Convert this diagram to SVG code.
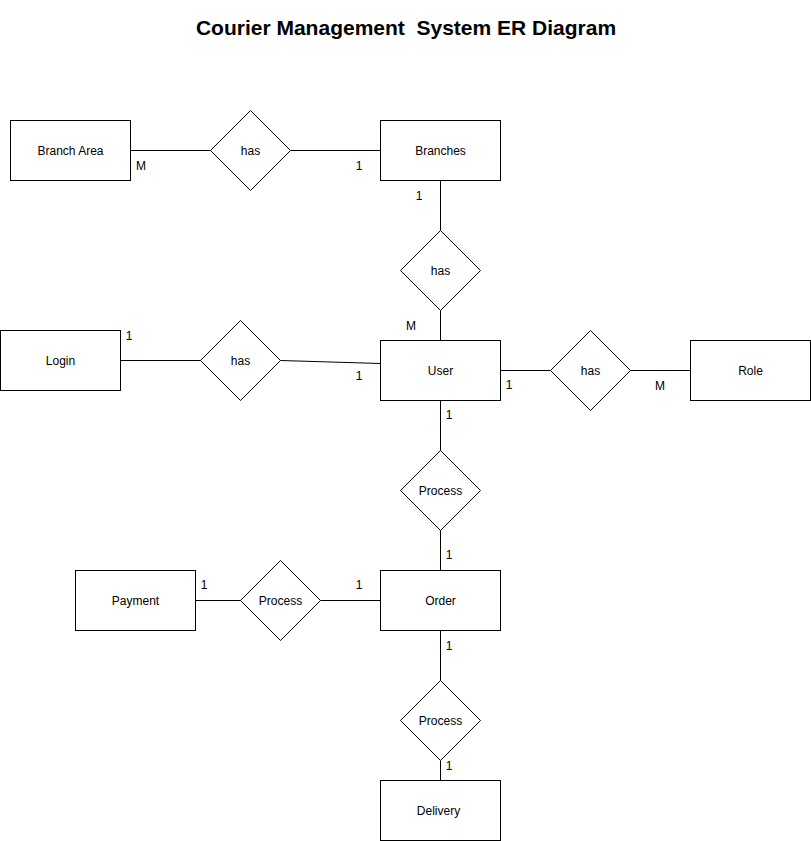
<svg xmlns="http://www.w3.org/2000/svg" width="811" height="841" viewBox="0 0 811 841">
<style>
.e{fill:#fff;stroke:#000;stroke-width:1}
.t{font-family:"Liberation Sans",Arial,sans-serif;font-size:12px;fill:#000;text-anchor:middle;dominant-baseline:central}
.c{font-family:"Liberation Sans",Arial,sans-serif;font-size:12px;fill:#000;text-anchor:middle}
.l{stroke:#000;stroke-width:1;fill:none}
</style>
<rect width="811" height="841" fill="#fff"/>
<text x="406" y="35" font-family="Liberation Sans,Arial,sans-serif" font-size="21" font-weight="bold" text-anchor="middle" xml:space="preserve">Courier Management  System ER Diagram</text>
<g transform="translate(0.5,0.5)">
<g id="connectors">
<path class="l" d="M130,150H210M290,150H380"/>
<path class="l" d="M440,180V230M440,310V340"/>
<path class="l" d="M120,360H200M280,360L380,363"/>
<path class="l" d="M500,370H550M630,370H690"/>
<path class="l" d="M440,400V450M440,530V570"/>
<path class="l" d="M195,600H240M320,600H380"/>
<path class="l" d="M440,630V680M440,760V780"/>
</g>
<g id="branch-area"><rect class="e" x="10" y="120" width="120" height="60"/><text class="t" x="70" y="150">Branch Area</text></g>
<g id="branches"><rect class="e" x="380" y="120" width="120" height="60"/><text class="t" x="440" y="150">Branches</text></g>
<g id="login"><rect class="e" x="0" y="330" width="120" height="60"/><text class="t" x="60" y="360">Login</text></g>
<g id="user"><rect class="e" x="380" y="340" width="120" height="60"/><text class="t" x="440" y="370">User</text></g>
<g id="role"><rect class="e" x="690" y="340" width="120" height="60"/><text class="t" x="750" y="370">Role</text></g>
<g id="order"><rect class="e" x="380" y="570" width="120" height="60"/><text class="t" x="440" y="600">Order</text></g>
<g id="payment"><rect class="e" x="75" y="570" width="120" height="60"/><text class="t" x="135" y="600">Payment</text></g>
<g id="delivery"><rect class="e" x="380" y="780" width="120" height="60"/><text class="t" x="438" y="810">Delivery</text></g>
<g id="rel-area-branches"><path class="e" d="M250,110L290,150L250,190L210,150Z"/><text class="t" x="250" y="150">has</text></g>
<g id="rel-branches-user"><path class="e" d="M440,230L480,270L440,310L400,270Z"/><text class="t" x="440" y="270">has</text></g>
<g id="rel-login-user"><path class="e" d="M240,320L280,360L240,400L200,360Z"/><text class="t" x="240" y="360">has</text></g>
<g id="rel-user-role"><path class="e" d="M590,330L630,370L590,410L550,370Z"/><text class="t" x="590" y="370">has</text></g>
<g id="rel-user-order"><path class="e" d="M440,450L480,490L440,530L400,490Z"/><text class="t" x="440" y="490">Process</text></g>
<g id="rel-payment-order"><path class="e" d="M280,560L320,600L280,640L240,600Z"/><text class="t" x="280" y="600">Process</text></g>
<g id="rel-order-delivery"><path class="e" d="M440,680L480,720L440,760L400,720Z"/><text class="t" x="440" y="720">Process</text></g>
</g>
<g id="labels">
<text class="c" x="141" y="170">M</text>
<text class="c" x="359" y="170">1</text>
<text class="c" x="419" y="200">1</text>
<text class="c" x="411" y="330">M</text>
<text class="c" x="129" y="340">1</text>
<text class="c" x="359" y="380">1</text>
<text class="c" x="509" y="389">1</text>
<text class="c" x="660" y="390">M</text>
<text class="c" x="449" y="419">1</text>
<text class="c" x="449" y="559">1</text>
<text class="c" x="204" y="589">1</text>
<text class="c" x="359" y="589">1</text>
<text class="c" x="449" y="650">1</text>
<text class="c" x="449" y="770">1</text>
</g>
</svg>
